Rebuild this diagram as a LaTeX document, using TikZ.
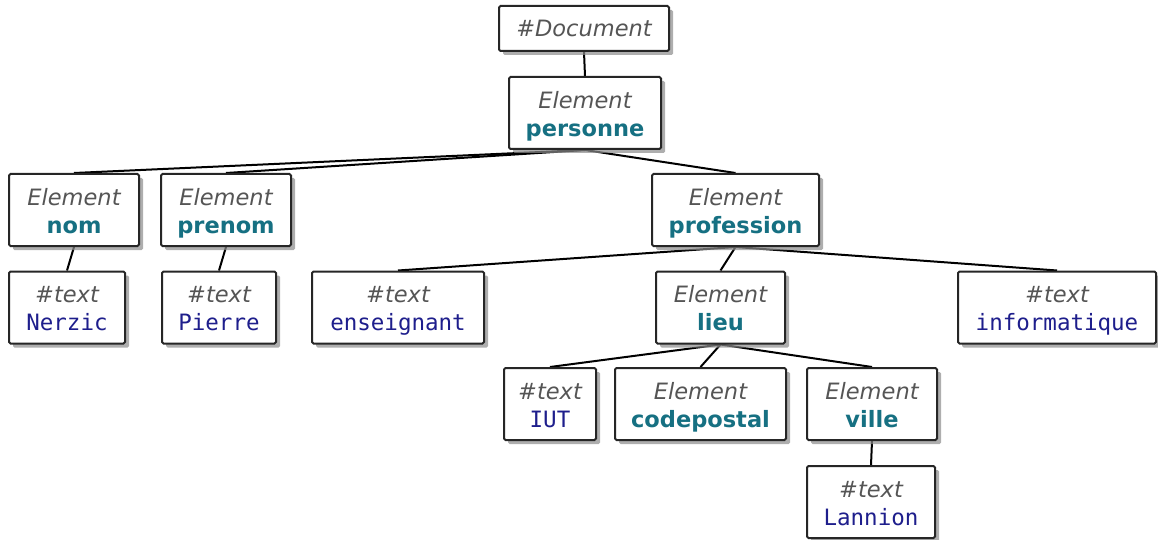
\documentclass[tikz,border=0pt]{standalone}
\usepackage{fontspec}
\usetikzlibrary{shadows,backgrounds}
\newfontfamily\djsans{DejaVu Sans}
\newfontfamily\djmono{DejaVu Sans Mono}
\definecolor{elgray}{RGB}{85,85,85}
\definecolor{elteal}{RGB}{22,112,130}
\definecolor{txnavy}{RGB}{30,30,140}
\newcommand{\elnode}[1]{{\rule{0pt}{23pt}\color{elgray}\djsans\itshape Element}\\{\color{elteal}\djsans\bfseries #1\vphantom{p}}}
\newcommand{\txnode}[1]{{\rule{0pt}{23pt}\color{elgray}\djsans\itshape \#text}\\{\color{txnavy}\djmono #1\vphantom{p}}}
\begin{document}
\begin{tikzpicture}[x=1pt,y=-1pt,
  box/.style={draw=black!85, line width=2pt, rounded corners=1.5pt, fill=white, inner sep=0pt,
    align=center, font=\fontsize{22.5}{28}\selectfont,
    drop shadow={shadow xshift=4pt, shadow yshift=-4pt, fill=black!45, opacity=0.7}},
  edge/.style={line width=2pt, black}]
\useasboundingbox (0,0) rectangle (1158,540);
% level 0
\node[box, minimum width=170pt, minimum height=45pt] (doc) at (584,28.5) {{\color{elgray}\djsans\itshape \#Document}};
% level 1
\node[box, minimum width=152pt, minimum height=72pt] (personne) at (585,113) {\elnode{personne}};
% level 2
\node[box, minimum width=130pt, minimum height=72pt] (nom) at (74,210) {\elnode{nom}};
\node[box, minimum width=130pt, minimum height=72pt] (prenom) at (226,210) {\elnode{prenom}};
\node[box, minimum width=167pt, minimum height=72pt] (profession) at (735.5,210) {\elnode{profession}};
% level 3
\node[box, minimum width=116pt, minimum height=72pt] (nerzic) at (67,307.5) {\txnode{Nerzic}};
\node[box, minimum width=114pt, minimum height=72pt] (pierre) at (219,307.5) {\txnode{Pierre}};
\node[box, minimum width=172pt, minimum height=72pt] (enseignant) at (398,307.5) {\txnode{enseignant}};
\node[box, minimum width=129pt, minimum height=72pt] (lieu) at (720.5,307.5) {\elnode{lieu}};
\node[box, minimum width=198pt, minimum height=72pt] (informatique) at (1057,307.5) {\txnode{informatique}};
% level 4
\node[box, minimum width=92pt, minimum height=72pt] (iut) at (550,404) {\txnode{IUT}};
\node[box, minimum width=171pt, minimum height=72pt] (codepostal) at (700.5,404) {\elnode{codepostal}};
\node[box, minimum width=130pt, minimum height=72pt] (ville) at (872,404) {\elnode{ville}};
% level 5
\node[box, minimum width=128pt, minimum height=72pt] (lannion) at (871,502) {\txnode{Lannion}};
\begin{pgfonlayer}{background}
\draw[edge] (doc.south) -- (personne.north);
\draw[edge] (personne.south) -- (nom.north);
\draw[edge] (personne.south) -- (prenom.north);
\draw[edge] (personne.south) -- (profession.north);
\draw[edge] (nom.south) -- (nerzic.north);
\draw[edge] (prenom.south) -- (pierre.north);
\draw[edge] (profession.south) -- (enseignant.north);
\draw[edge] (profession.south) -- (lieu.north);
\draw[edge] (profession.south) -- (informatique.north);
\draw[edge] (lieu.south) -- (iut.north);
\draw[edge] (lieu.south) -- (codepostal.north);
\draw[edge] (lieu.south) -- (ville.north);
\draw[edge] (ville.south) -- (lannion.north);
\end{pgfonlayer}
\end{tikzpicture}
\end{document}
